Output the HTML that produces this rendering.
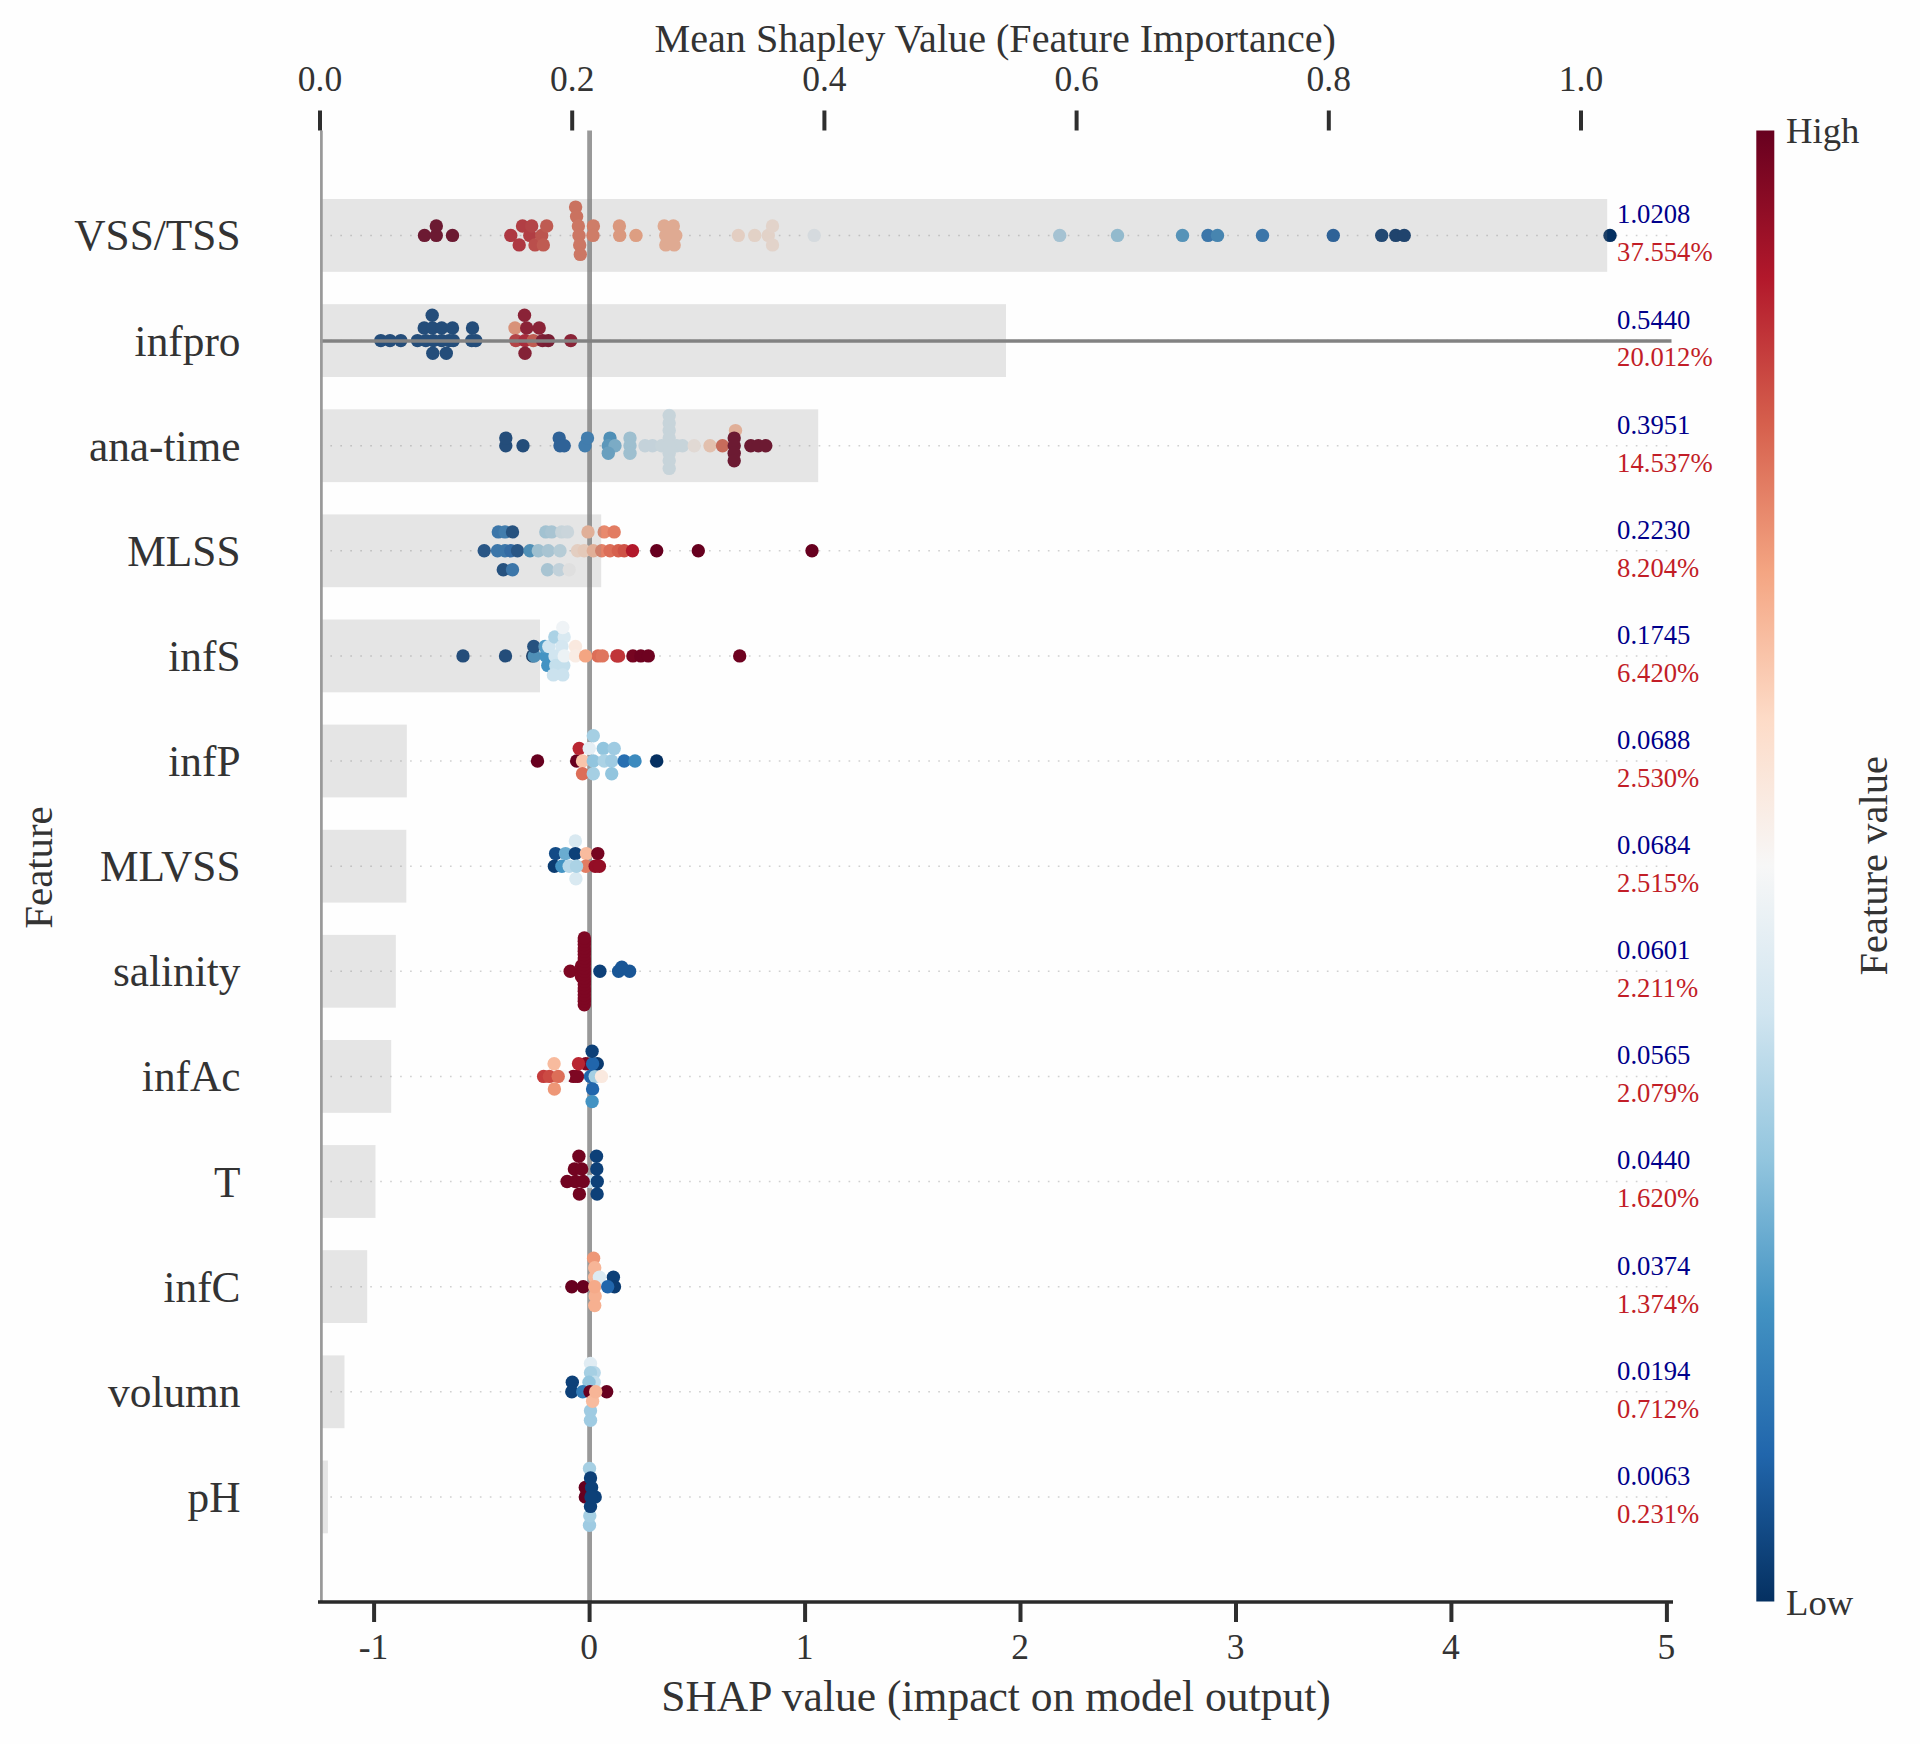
<!DOCTYPE html>
<html lang="en"><head><meta charset="utf-8"><title>SHAP summary plot</title>
<style>
html,body{margin:0;padding:0;background:#fefefe;}
body{width:1920px;height:1744px;overflow:hidden;font-family:'Liberation Serif','DejaVu Serif',serif;}
svg{display:block;}
</style></head><body>
<svg width="1920" height="1744" viewBox="0 0 1920 1744" font-family="'Liberation Serif','DejaVu Serif',serif" fill="#333333">
<rect width="1920" height="1744" fill="#fefefe"/>
<g stroke="#d0d0d0" stroke-width="1.5" stroke-dasharray="1.66 8.305" fill="none">
<line x1="320.4" x2="1670.5" y1="235.4" y2="235.4"/>
<line x1="320.4" x2="1670.5" y1="340.6" y2="340.6"/>
<line x1="320.4" x2="1670.5" y1="445.7" y2="445.7"/>
<line x1="320.4" x2="1670.5" y1="550.8" y2="550.8"/>
<line x1="320.4" x2="1670.5" y1="655.9" y2="655.9"/>
<line x1="320.4" x2="1670.5" y1="761.0" y2="761.0"/>
<line x1="320.4" x2="1670.5" y1="866.2" y2="866.2"/>
<line x1="320.4" x2="1670.5" y1="971.3" y2="971.3"/>
<line x1="320.4" x2="1670.5" y1="1076.4" y2="1076.4"/>
<line x1="320.4" x2="1670.5" y1="1181.5" y2="1181.5"/>
<line x1="320.4" x2="1670.5" y1="1286.7" y2="1286.7"/>
<line x1="320.4" x2="1670.5" y1="1391.8" y2="1391.8"/>
<line x1="320.4" x2="1670.5" y1="1496.9" y2="1496.9"/>
</g>
<line x1="589.6" x2="589.6" y1="130.5" y2="1602.0" stroke="#999999" stroke-width="4.8"/>
<g>
<circle cx="424.5" cy="235.4" r="6.7" fill="#67001f"/>
<circle cx="436.3" cy="235.4" r="6.7" fill="#67001f"/>
<circle cx="436.3" cy="226.0" r="6.7" fill="#67001f"/>
<circle cx="452.5" cy="235.4" r="6.7" fill="#67001f"/>
<circle cx="510.8" cy="235.4" r="6.7" fill="#b92632"/>
<circle cx="519.2" cy="244.9" r="6.7" fill="#b92632"/>
<circle cx="522.5" cy="226.0" r="6.7" fill="#bd2e35"/>
<circle cx="529.8" cy="235.4" r="6.7" fill="#bd2e35"/>
<circle cx="531.7" cy="226.0" r="6.7" fill="#c03539"/>
<circle cx="535.0" cy="244.9" r="6.7" fill="#c8433f"/>
<circle cx="541.7" cy="235.4" r="6.7" fill="#cb4a43"/>
<circle cx="543.3" cy="244.9" r="6.7" fill="#cf5246"/>
<circle cx="546.7" cy="226.0" r="6.7" fill="#cf5246"/>
<circle cx="575.6" cy="207.1" r="6.7" fill="#dc6e58"/>
<circle cx="576.6" cy="216.5" r="6.7" fill="#dc6e58"/>
<circle cx="578.4" cy="226.0" r="6.7" fill="#df755d"/>
<circle cx="579.0" cy="235.4" r="6.7" fill="#df755d"/>
<circle cx="579.7" cy="244.9" r="6.7" fill="#df755d"/>
<circle cx="580.3" cy="254.4" r="6.7" fill="#df755d"/>
<circle cx="593.4" cy="226.0" r="6.7" fill="#e27c62"/>
<circle cx="593.0" cy="235.4" r="6.7" fill="#e27c62"/>
<circle cx="619.4" cy="226.0" r="6.7" fill="#f19e7d"/>
<circle cx="619.7" cy="235.4" r="6.7" fill="#f19e7d"/>
<circle cx="636.0" cy="235.4" r="6.7" fill="#f4a582"/>
<circle cx="664.2" cy="226.0" r="6.7" fill="#f7b597"/>
<circle cx="673.3" cy="226.0" r="6.7" fill="#f7b597"/>
<circle cx="665.8" cy="235.4" r="6.7" fill="#f7b597"/>
<circle cx="675.8" cy="235.4" r="6.7" fill="#f7b597"/>
<circle cx="665.8" cy="244.9" r="6.7" fill="#f7b597"/>
<circle cx="674.2" cy="244.9" r="6.7" fill="#f7b597"/>
<circle cx="738.3" cy="235.4" r="6.7" fill="#fce2d3"/>
<circle cx="754.7" cy="235.4" r="6.7" fill="#fbe5d8"/>
<circle cx="768.3" cy="235.4" r="6.7" fill="#fbe6da"/>
<circle cx="772.5" cy="226.0" r="6.7" fill="#fae8dd"/>
<circle cx="772.5" cy="244.9" r="6.7" fill="#fae8dd"/>
<circle cx="814.2" cy="235.4" r="6.7" fill="#eaf1f5"/>
<circle cx="1059.7" cy="235.4" r="6.7" fill="#aed3e6"/>
<circle cx="1117.5" cy="235.4" r="6.7" fill="#98c8e0"/>
<circle cx="1182.5" cy="235.4" r="6.7" fill="#4b98c6"/>
<circle cx="1208.0" cy="235.4" r="6.7" fill="#2b74b3"/>
<circle cx="1217.5" cy="235.4" r="6.7" fill="#3986bc"/>
<circle cx="1262.5" cy="235.4" r="6.7" fill="#2b74b3"/>
<circle cx="1333.3" cy="235.4" r="6.7" fill="#1b5b9d"/>
<circle cx="1381.7" cy="235.4" r="6.7" fill="#0b3b70"/>
<circle cx="1395.8" cy="235.4" r="6.7" fill="#083568"/>
<circle cx="1404.2" cy="235.4" r="6.7" fill="#083568"/>
<circle cx="1610.0" cy="235.4" r="6.7" fill="#053061"/>
<circle cx="380.8" cy="340.6" r="6.7" fill="#0d4078"/>
<circle cx="390.0" cy="340.6" r="6.7" fill="#0d4078"/>
<circle cx="400.8" cy="340.6" r="6.7" fill="#0d4078"/>
<circle cx="417.5" cy="340.6" r="6.7" fill="#0d4078"/>
<circle cx="425.8" cy="340.6" r="6.7" fill="#0d4078"/>
<circle cx="433.3" cy="340.6" r="6.7" fill="#0d4078"/>
<circle cx="441.7" cy="340.6" r="6.7" fill="#0d4078"/>
<circle cx="449.2" cy="340.6" r="6.7" fill="#0d4078"/>
<circle cx="453.3" cy="340.6" r="6.7" fill="#0d4078"/>
<circle cx="471.7" cy="340.6" r="6.7" fill="#0d4078"/>
<circle cx="475.8" cy="340.6" r="6.7" fill="#0d4078"/>
<circle cx="424.2" cy="328.0" r="6.7" fill="#0d4078"/>
<circle cx="432.5" cy="328.0" r="6.7" fill="#0d4078"/>
<circle cx="441.7" cy="328.0" r="6.7" fill="#0d4078"/>
<circle cx="452.5" cy="328.0" r="6.7" fill="#0d4078"/>
<circle cx="472.5" cy="328.0" r="6.7" fill="#0d4078"/>
<circle cx="432.2" cy="315.3" r="6.7" fill="#0d4078"/>
<circle cx="432.8" cy="353.2" r="6.7" fill="#0d4078"/>
<circle cx="446.3" cy="353.2" r="6.7" fill="#0d4078"/>
<circle cx="515.0" cy="328.0" r="6.7" fill="#ee9777"/>
<circle cx="515.8" cy="340.6" r="6.7" fill="#c03539"/>
<circle cx="525.0" cy="340.6" r="6.7" fill="#b2182b"/>
<circle cx="533.3" cy="340.6" r="6.7" fill="#cf5246"/>
<circle cx="542.5" cy="340.6" r="6.7" fill="#7e0723"/>
<circle cx="548.3" cy="340.6" r="6.7" fill="#760521"/>
<circle cx="570.8" cy="340.6" r="6.7" fill="#8c0c25"/>
<circle cx="526.7" cy="328.0" r="6.7" fill="#8c0c25"/>
<circle cx="539.2" cy="328.0" r="6.7" fill="#8c0c25"/>
<circle cx="524.5" cy="315.3" r="6.7" fill="#8c0c25"/>
<circle cx="525.0" cy="353.2" r="6.7" fill="#850a24"/>
<circle cx="505.8" cy="445.7" r="6.7" fill="#0d4078"/>
<circle cx="505.8" cy="438.1" r="6.7" fill="#0d4078"/>
<circle cx="523.0" cy="445.7" r="6.7" fill="#0d4078"/>
<circle cx="559.2" cy="438.1" r="6.7" fill="#1b5b9d"/>
<circle cx="560.0" cy="445.7" r="6.7" fill="#1b5b9d"/>
<circle cx="564.2" cy="445.7" r="6.7" fill="#1b5b9d"/>
<circle cx="585.0" cy="445.7" r="6.7" fill="#327cb8"/>
<circle cx="587.5" cy="438.1" r="6.7" fill="#327cb8"/>
<circle cx="610.0" cy="438.1" r="6.7" fill="#4393c3"/>
<circle cx="608.3" cy="445.7" r="6.7" fill="#539dc8"/>
<circle cx="615.0" cy="445.7" r="6.7" fill="#7ab6d6"/>
<circle cx="608.3" cy="453.3" r="6.7" fill="#63a7ce"/>
<circle cx="630.0" cy="438.1" r="6.7" fill="#a5cfe3"/>
<circle cx="630.0" cy="445.7" r="6.7" fill="#a5cfe3"/>
<circle cx="630.0" cy="453.3" r="6.7" fill="#a5cfe3"/>
<circle cx="645.0" cy="445.7" r="6.7" fill="#d5e7f1"/>
<circle cx="652.5" cy="445.7" r="6.7" fill="#d5e7f1"/>
<circle cx="661.7" cy="445.7" r="6.7" fill="#d9e9f1"/>
<circle cx="676.7" cy="445.7" r="6.7" fill="#d9e9f1"/>
<circle cx="682.5" cy="445.7" r="6.7" fill="#d9e9f1"/>
<circle cx="669.2" cy="415.4" r="6.7" fill="#d9e9f1"/>
<circle cx="669.2" cy="423.0" r="6.7" fill="#d9e9f1"/>
<circle cx="669.2" cy="430.6" r="6.7" fill="#d9e9f1"/>
<circle cx="669.2" cy="438.1" r="6.7" fill="#d9e9f1"/>
<circle cx="669.2" cy="445.7" r="6.7" fill="#d9e9f1"/>
<circle cx="669.2" cy="453.3" r="6.7" fill="#d9e9f1"/>
<circle cx="669.2" cy="460.8" r="6.7" fill="#d9e9f1"/>
<circle cx="669.2" cy="468.4" r="6.7" fill="#d9e9f1"/>
<circle cx="694.2" cy="445.7" r="6.7" fill="#f9efe9"/>
<circle cx="710.0" cy="445.7" r="6.7" fill="#fbd0b9"/>
<circle cx="722.5" cy="445.7" r="6.7" fill="#d96752"/>
<circle cx="735.5" cy="430.6" r="6.7" fill="#f8bb9e"/>
<circle cx="734.2" cy="438.1" r="6.7" fill="#67001f"/>
<circle cx="734.2" cy="445.7" r="6.7" fill="#67001f"/>
<circle cx="734.2" cy="453.3" r="6.7" fill="#67001f"/>
<circle cx="734.2" cy="460.8" r="6.7" fill="#67001f"/>
<circle cx="750.8" cy="445.7" r="6.7" fill="#67001f"/>
<circle cx="758.3" cy="445.7" r="6.7" fill="#67001f"/>
<circle cx="765.8" cy="445.7" r="6.7" fill="#67001f"/>
<circle cx="484.2" cy="550.8" r="6.7" fill="#134b86"/>
<circle cx="497.5" cy="550.8" r="6.7" fill="#2b74b3"/>
<circle cx="505.0" cy="550.8" r="6.7" fill="#2b74b3"/>
<circle cx="510.8" cy="550.8" r="6.7" fill="#2166ac"/>
<circle cx="517.5" cy="550.8" r="6.7" fill="#134b86"/>
<circle cx="530.0" cy="550.8" r="6.7" fill="#4393c3"/>
<circle cx="538.3" cy="550.8" r="6.7" fill="#a5cfe3"/>
<circle cx="548.3" cy="550.8" r="6.7" fill="#b2d5e7"/>
<circle cx="560.0" cy="550.8" r="6.7" fill="#c4dfec"/>
<circle cx="577.5" cy="550.8" r="6.7" fill="#fce1d1"/>
<circle cx="584.2" cy="550.8" r="6.7" fill="#fddbc7"/>
<circle cx="593.3" cy="550.8" r="6.7" fill="#f8bb9e"/>
<circle cx="601.7" cy="550.8" r="6.7" fill="#e58268"/>
<circle cx="610.0" cy="550.8" r="6.7" fill="#dc6e58"/>
<circle cx="618.3" cy="550.8" r="6.7" fill="#d6604d"/>
<circle cx="624.2" cy="550.8" r="6.7" fill="#cf5246"/>
<circle cx="632.5" cy="550.8" r="6.7" fill="#b2182b"/>
<circle cx="656.7" cy="550.8" r="6.7" fill="#67001f"/>
<circle cx="698.3" cy="550.8" r="6.7" fill="#67001f"/>
<circle cx="812.0" cy="550.8" r="6.7" fill="#67001f"/>
<circle cx="498.3" cy="531.9" r="6.7" fill="#2b74b3"/>
<circle cx="505.0" cy="531.9" r="6.7" fill="#327cb8"/>
<circle cx="512.5" cy="531.9" r="6.7" fill="#10467f"/>
<circle cx="545.8" cy="531.9" r="6.7" fill="#abd2e5"/>
<circle cx="551.7" cy="531.9" r="6.7" fill="#b2d5e7"/>
<circle cx="561.7" cy="531.9" r="6.7" fill="#d9e9f1"/>
<circle cx="567.5" cy="531.9" r="6.7" fill="#dceaf2"/>
<circle cx="588.0" cy="531.9" r="6.7" fill="#f8bb9e"/>
<circle cx="604.2" cy="531.9" r="6.7" fill="#e8896d"/>
<circle cx="614.2" cy="531.9" r="6.7" fill="#e27c62"/>
<circle cx="503.3" cy="569.7" r="6.7" fill="#10467f"/>
<circle cx="512.5" cy="569.7" r="6.7" fill="#2b74b3"/>
<circle cx="547.5" cy="569.7" r="6.7" fill="#b2d5e7"/>
<circle cx="559.2" cy="569.7" r="6.7" fill="#d1e5f0"/>
<circle cx="569.2" cy="569.7" r="6.7" fill="#f7f7f7"/>
<circle cx="463.0" cy="655.9" r="6.7" fill="#0d4078"/>
<circle cx="505.5" cy="655.9" r="6.7" fill="#0d4078"/>
<circle cx="532.7" cy="655.9" r="6.7" fill="#053061"/>
<circle cx="534.2" cy="655.9" r="6.7" fill="#4393c3"/>
<circle cx="545.9" cy="655.9" r="6.7" fill="#4393c3"/>
<circle cx="533.8" cy="646.5" r="6.7" fill="#10467f"/>
<circle cx="545.0" cy="646.5" r="6.7" fill="#539dc8"/>
<circle cx="548.8" cy="646.5" r="6.7" fill="#d1e5f0"/>
<circle cx="547.8" cy="665.4" r="6.7" fill="#4393c3"/>
<circle cx="554.8" cy="637.0" r="6.7" fill="#abd2e5"/>
<circle cx="564.2" cy="637.0" r="6.7" fill="#d9e9f1"/>
<circle cx="562.8" cy="627.5" r="6.7" fill="#eff3f6"/>
<circle cx="561.9" cy="646.5" r="6.7" fill="#d5e7f1"/>
<circle cx="555.0" cy="655.9" r="6.7" fill="#d1e5f0"/>
<circle cx="555.8" cy="665.4" r="6.7" fill="#c4dfec"/>
<circle cx="563.8" cy="665.4" r="6.7" fill="#c4dfec"/>
<circle cx="553.4" cy="674.9" r="6.7" fill="#cbe2ee"/>
<circle cx="562.8" cy="674.9" r="6.7" fill="#cbe2ee"/>
<circle cx="564.2" cy="655.9" r="6.7" fill="#ecf2f5"/>
<circle cx="575.5" cy="646.5" r="6.7" fill="#fae9df"/>
<circle cx="575.5" cy="655.9" r="6.7" fill="#f9ece4"/>
<circle cx="598.0" cy="655.9" r="6.7" fill="#dc6e58"/>
<circle cx="602.4" cy="655.9" r="6.7" fill="#df755d"/>
<circle cx="585.5" cy="655.9" r="6.7" fill="#f4a582"/>
<circle cx="616.9" cy="655.9" r="6.7" fill="#c03539"/>
<circle cx="618.6" cy="655.9" r="6.7" fill="#c03539"/>
<circle cx="632.9" cy="655.9" r="6.7" fill="#760521"/>
<circle cx="640.8" cy="655.9" r="6.7" fill="#6e0220"/>
<circle cx="648.3" cy="655.9" r="6.7" fill="#6e0220"/>
<circle cx="739.7" cy="655.9" r="6.7" fill="#6e0220"/>
<circle cx="537.5" cy="761.0" r="6.7" fill="#67001f"/>
<circle cx="576.7" cy="761.0" r="6.7" fill="#67001f"/>
<circle cx="579.2" cy="748.4" r="6.7" fill="#b92632"/>
<circle cx="582.5" cy="761.0" r="6.7" fill="#f9c5ab"/>
<circle cx="582.5" cy="773.7" r="6.7" fill="#dc6e58"/>
<circle cx="593.3" cy="735.8" r="6.7" fill="#a5cfe3"/>
<circle cx="603.3" cy="748.4" r="6.7" fill="#92c5de"/>
<circle cx="614.2" cy="748.4" r="6.7" fill="#9fcbe2"/>
<circle cx="589.2" cy="748.4" r="6.7" fill="#e4eef4"/>
<circle cx="593.3" cy="761.0" r="6.7" fill="#92c5de"/>
<circle cx="604.2" cy="761.0" r="6.7" fill="#abd2e5"/>
<circle cx="611.7" cy="761.0" r="6.7" fill="#9fcbe2"/>
<circle cx="593.3" cy="773.7" r="6.7" fill="#a5cfe3"/>
<circle cx="611.7" cy="773.7" r="6.7" fill="#92c5de"/>
<circle cx="624.2" cy="761.0" r="6.7" fill="#286fb1"/>
<circle cx="635.0" cy="761.0" r="6.7" fill="#3c8abe"/>
<circle cx="656.7" cy="761.0" r="6.7" fill="#053061"/>
<circle cx="575.4" cy="840.9" r="6.7" fill="#d9e9f1"/>
<circle cx="575.9" cy="878.8" r="6.7" fill="#d9e9f1"/>
<circle cx="554.4" cy="866.2" r="6.7" fill="#0b3b70"/>
<circle cx="561.9" cy="866.2" r="6.7" fill="#4393c3"/>
<circle cx="555.6" cy="853.6" r="6.7" fill="#134b86"/>
<circle cx="565.5" cy="853.6" r="6.7" fill="#6aacd0"/>
<circle cx="575.4" cy="853.6" r="6.7" fill="#0d4078"/>
<circle cx="586.4" cy="853.6" r="6.7" fill="#f8bb9e"/>
<circle cx="585.8" cy="866.2" r="6.7" fill="#e27c62"/>
<circle cx="569.2" cy="866.2" r="6.7" fill="#b8d8e9"/>
<circle cx="576.5" cy="866.2" r="6.7" fill="#abd2e5"/>
<circle cx="597.8" cy="853.6" r="6.7" fill="#760521"/>
<circle cx="595.2" cy="866.2" r="6.7" fill="#940e26"/>
<circle cx="599.4" cy="866.2" r="6.7" fill="#940e26"/>
<circle cx="570.2" cy="971.3" r="6.7" fill="#7e0723"/>
<circle cx="581.5" cy="971.3" r="6.7" fill="#7e0723"/>
<circle cx="581.5" cy="966.1" r="6.7" fill="#7e0723"/>
<circle cx="581.5" cy="976.5" r="6.7" fill="#7e0723"/>
<circle cx="584.3" cy="1004.7" r="6.7" fill="#7e0723"/>
<circle cx="584.3" cy="1001.3" r="6.7" fill="#7e0723"/>
<circle cx="584.3" cy="998.0" r="6.7" fill="#7e0723"/>
<circle cx="584.3" cy="994.7" r="6.7" fill="#7e0723"/>
<circle cx="584.3" cy="991.3" r="6.7" fill="#7e0723"/>
<circle cx="584.3" cy="988.0" r="6.7" fill="#7e0723"/>
<circle cx="584.3" cy="984.6" r="6.7" fill="#7e0723"/>
<circle cx="584.3" cy="981.3" r="6.7" fill="#7e0723"/>
<circle cx="584.3" cy="978.0" r="6.7" fill="#7e0723"/>
<circle cx="584.3" cy="974.6" r="6.7" fill="#7e0723"/>
<circle cx="584.3" cy="971.3" r="6.7" fill="#7e0723"/>
<circle cx="584.3" cy="968.0" r="6.7" fill="#7e0723"/>
<circle cx="584.3" cy="964.6" r="6.7" fill="#7e0723"/>
<circle cx="584.3" cy="961.3" r="6.7" fill="#7e0723"/>
<circle cx="584.3" cy="957.9" r="6.7" fill="#7e0723"/>
<circle cx="584.3" cy="954.6" r="6.7" fill="#7e0723"/>
<circle cx="584.3" cy="951.3" r="6.7" fill="#7e0723"/>
<circle cx="584.3" cy="947.9" r="6.7" fill="#7e0723"/>
<circle cx="584.3" cy="944.6" r="6.7" fill="#7e0723"/>
<circle cx="584.3" cy="941.3" r="6.7" fill="#7e0723"/>
<circle cx="584.3" cy="937.9" r="6.7" fill="#7e0723"/>
<circle cx="599.9" cy="971.3" r="6.7" fill="#0d4078"/>
<circle cx="618.6" cy="971.3" r="6.7" fill="#195696"/>
<circle cx="629.6" cy="971.3" r="6.7" fill="#195696"/>
<circle cx="621.8" cy="967.3" r="6.7" fill="#195696"/>
<circle cx="543.6" cy="1076.4" r="6.7" fill="#c43c3c"/>
<circle cx="549.4" cy="1076.4" r="6.7" fill="#cb4a43"/>
<circle cx="573.3" cy="1076.4" r="6.7" fill="#7e0723"/>
<circle cx="577.5" cy="1076.4" r="6.7" fill="#7e0723"/>
<circle cx="563.6" cy="1076.4" r="6.7" fill="#f7f7f7"/>
<circle cx="558.2" cy="1076.4" r="6.7" fill="#dc6e58"/>
<circle cx="554.1" cy="1063.8" r="6.7" fill="#f8bb9e"/>
<circle cx="554.4" cy="1089.0" r="6.7" fill="#ee9777"/>
<circle cx="585.8" cy="1063.8" r="6.7" fill="#7e0723"/>
<circle cx="578.5" cy="1063.8" r="6.7" fill="#b92632"/>
<circle cx="590.5" cy="1076.4" r="6.7" fill="#2166ac"/>
<circle cx="595.2" cy="1076.4" r="6.7" fill="#a5cfe3"/>
<circle cx="601.5" cy="1076.4" r="6.7" fill="#fae9df"/>
<circle cx="597.3" cy="1063.8" r="6.7" fill="#0b3b70"/>
<circle cx="592.6" cy="1063.8" r="6.7" fill="#2166ac"/>
<circle cx="592.1" cy="1051.2" r="6.7" fill="#0d4078"/>
<circle cx="592.6" cy="1089.0" r="6.7" fill="#2166ac"/>
<circle cx="592.1" cy="1101.6" r="6.7" fill="#4393c3"/>
<circle cx="590.0" cy="1181.5" r="6.7" fill="#c4dfec"/>
<circle cx="567.1" cy="1181.5" r="6.7" fill="#720421"/>
<circle cx="575.4" cy="1181.5" r="6.7" fill="#720421"/>
<circle cx="583.2" cy="1181.5" r="6.7" fill="#720421"/>
<circle cx="574.4" cy="1168.9" r="6.7" fill="#720421"/>
<circle cx="581.7" cy="1168.9" r="6.7" fill="#720421"/>
<circle cx="578.9" cy="1156.3" r="6.7" fill="#720421"/>
<circle cx="579.4" cy="1194.1" r="6.7" fill="#720421"/>
<circle cx="596.5" cy="1156.3" r="6.7" fill="#0d4078"/>
<circle cx="596.8" cy="1168.9" r="6.7" fill="#0d4078"/>
<circle cx="597.3" cy="1181.5" r="6.7" fill="#0d4078"/>
<circle cx="597.1" cy="1194.1" r="6.7" fill="#0d4078"/>
<circle cx="571.8" cy="1286.7" r="6.7" fill="#67001f"/>
<circle cx="583.2" cy="1286.7" r="6.7" fill="#67001f"/>
<circle cx="593.6" cy="1258.3" r="6.7" fill="#ee9777"/>
<circle cx="594.7" cy="1267.7" r="6.7" fill="#f7b597"/>
<circle cx="594.7" cy="1277.2" r="6.7" fill="#f7b597"/>
<circle cx="599.4" cy="1277.2" r="6.7" fill="#dceaf2"/>
<circle cx="594.7" cy="1305.6" r="6.7" fill="#f6b090"/>
<circle cx="595.2" cy="1296.1" r="6.7" fill="#f6b090"/>
<circle cx="594.7" cy="1286.7" r="6.7" fill="#f5aa89"/>
<circle cx="613.4" cy="1277.2" r="6.7" fill="#0d4078"/>
<circle cx="614.5" cy="1286.7" r="6.7" fill="#0b3b70"/>
<circle cx="607.7" cy="1286.7" r="6.7" fill="#2166ac"/>
<circle cx="590.5" cy="1363.4" r="6.7" fill="#e0ecf3"/>
<circle cx="594.2" cy="1372.8" r="6.7" fill="#b8d8e9"/>
<circle cx="590.5" cy="1372.8" r="6.7" fill="#a5cfe3"/>
<circle cx="594.2" cy="1382.3" r="6.7" fill="#c4dfec"/>
<circle cx="589.0" cy="1382.3" r="6.7" fill="#92c5de"/>
<circle cx="572.3" cy="1382.3" r="6.7" fill="#0d4078"/>
<circle cx="571.8" cy="1391.8" r="6.7" fill="#0d4078"/>
<circle cx="582.7" cy="1391.8" r="6.7" fill="#327cb8"/>
<circle cx="590.5" cy="1420.2" r="6.7" fill="#9fcbe2"/>
<circle cx="590.5" cy="1410.7" r="6.7" fill="#9fcbe2"/>
<circle cx="590.0" cy="1391.8" r="6.7" fill="#67001f"/>
<circle cx="606.7" cy="1391.8" r="6.7" fill="#67001f"/>
<circle cx="592.6" cy="1401.2" r="6.7" fill="#f8bb9e"/>
<circle cx="595.7" cy="1391.8" r="6.7" fill="#f7b597"/>
<circle cx="589.5" cy="1468.5" r="6.7" fill="#a5cfe3"/>
<circle cx="589.5" cy="1525.3" r="6.7" fill="#9fcbe2"/>
<circle cx="589.8" cy="1515.8" r="6.7" fill="#a5cfe3"/>
<circle cx="585.3" cy="1487.4" r="6.7" fill="#67001f"/>
<circle cx="585.3" cy="1496.9" r="6.7" fill="#67001f"/>
<circle cx="590.5" cy="1478.0" r="6.7" fill="#0d4078"/>
<circle cx="591.6" cy="1487.4" r="6.7" fill="#0d4078"/>
<circle cx="590.5" cy="1506.4" r="6.7" fill="#0d4078"/>
<circle cx="595.2" cy="1496.9" r="6.7" fill="#0d4078"/>
<circle cx="591.0" cy="1496.9" r="6.7" fill="#0d4078"/>
</g>
<g fill="#808080" fill-opacity="0.2">
<rect x="320.0" y="199.0" width="1287.2" height="72.8"/>
<rect x="320.0" y="304.2" width="686.0" height="72.8"/>
<rect x="320.0" y="409.3" width="498.2" height="72.8"/>
<rect x="320.0" y="514.4" width="281.2" height="72.8"/>
<rect x="320.0" y="619.5" width="220.0" height="72.8"/>
<rect x="320.0" y="724.6" width="86.8" height="72.8"/>
<rect x="320.0" y="829.8" width="86.3" height="72.8"/>
<rect x="320.0" y="934.9" width="75.8" height="72.8"/>
<rect x="320.0" y="1040.0" width="71.2" height="72.8"/>
<rect x="320.0" y="1145.1" width="55.5" height="72.8"/>
<rect x="320.0" y="1250.2" width="47.2" height="72.8"/>
<rect x="320.0" y="1355.4" width="24.5" height="72.8"/>
<rect x="320.0" y="1460.5" width="7.9" height="72.8"/>
</g>
<line x1="320.0" x2="1671.5" y1="341" y2="341" stroke="#828282" stroke-width="3.5"/>
<line x1="321.4" x2="321.4" y1="130.5" y2="1602.0" stroke="#999999" stroke-width="2.7"/>
<line x1="318" x2="1673" y1="1602" y2="1602" stroke="#2a2a2a" stroke-width="3.7"/>
<g stroke="#2e2e2e" stroke-width="4">
<line x1="374.1" x2="374.1" y1="1602" y2="1622"/>
<line x1="589.6" x2="589.6" y1="1602" y2="1622"/>
<line x1="805.1" x2="805.1" y1="1602" y2="1622"/>
<line x1="1020.5" x2="1020.5" y1="1602" y2="1622"/>
<line x1="1236.0" x2="1236.0" y1="1602" y2="1622"/>
<line x1="1451.4" x2="1451.4" y1="1602" y2="1622"/>
<line x1="1666.9" x2="1666.9" y1="1602" y2="1622"/>
<line x1="320.0" x2="320.0" y1="110.5" y2="130.5"/>
<line x1="572.2" x2="572.2" y1="110.5" y2="130.5"/>
<line x1="824.4" x2="824.4" y1="110.5" y2="130.5"/>
<line x1="1076.6" x2="1076.6" y1="110.5" y2="130.5"/>
<line x1="1328.8" x2="1328.8" y1="110.5" y2="130.5"/>
<line x1="1581.0" x2="1581.0" y1="110.5" y2="130.5"/>
</g>
<g font-size="35.5" text-anchor="middle">
<text x="373.6" y="1659.1">-1</text>
<text x="589.1" y="1659.1">0</text>
<text x="804.6" y="1659.1">1</text>
<text x="1020.0" y="1659.1">2</text>
<text x="1235.5" y="1659.1">3</text>
<text x="1450.9" y="1659.1">4</text>
<text x="1666.4" y="1659.1">5</text>
<text x="320.0" y="90.5">0.0</text>
<text x="572.2" y="90.5">0.2</text>
<text x="824.4" y="90.5">0.4</text>
<text x="1076.6" y="90.5">0.6</text>
<text x="1328.8" y="90.5">0.8</text>
<text x="1581.0" y="90.5">1.0</text>
</g>
<text x="995.2" y="51.5" font-size="40.15" text-anchor="middle">Mean Shapley Value (Feature Importance)</text>
<text x="996" y="1711" font-size="43.55" text-anchor="middle">SHAP value (impact on model output)</text>
<text transform="translate(51.7 867.5) rotate(-90)" font-size="40.8" text-anchor="middle">Feature</text>
<text transform="translate(1887.2 865.8) rotate(-90)" font-size="40.55" text-anchor="middle">Feature value</text>
<g font-size="43.33" text-anchor="end">
<text x="240.5" y="250.4">VSS/TSS</text>
<text x="240.5" y="355.6">infpro</text>
<text x="240.5" y="460.7">ana-time</text>
<text x="240.5" y="565.8">MLSS</text>
<text x="240.5" y="670.9">infS</text>
<text x="240.5" y="776.0">infP</text>
<text x="240.5" y="881.2">MLVSS</text>
<text x="240.5" y="986.3">salinity</text>
<text x="240.5" y="1091.4">infAc</text>
<text x="240.5" y="1196.5">T</text>
<text x="240.5" y="1301.7">infC</text>
<text x="240.5" y="1406.8">volumn</text>
<text x="240.5" y="1511.9">pH</text>
</g>
<g font-size="26.67">
<text x="1617.1" y="223.3" fill="#00008b">1.0208</text>
<text x="1617.1" y="261.2" fill="#c21d27">37.554%</text>
<text x="1617.1" y="328.5" fill="#00008b">0.5440</text>
<text x="1617.1" y="366.4" fill="#c21d27">20.012%</text>
<text x="1617.1" y="433.6" fill="#00008b">0.3951</text>
<text x="1617.1" y="471.5" fill="#c21d27">14.537%</text>
<text x="1617.1" y="538.7" fill="#00008b">0.2230</text>
<text x="1617.1" y="576.6" fill="#c21d27">8.204%</text>
<text x="1617.1" y="643.8" fill="#00008b">0.1745</text>
<text x="1617.1" y="681.7" fill="#c21d27">6.420%</text>
<text x="1617.1" y="748.9" fill="#00008b">0.0688</text>
<text x="1617.1" y="786.8" fill="#c21d27">2.530%</text>
<text x="1617.1" y="854.1" fill="#00008b">0.0684</text>
<text x="1617.1" y="892.0" fill="#c21d27">2.515%</text>
<text x="1617.1" y="959.2" fill="#00008b">0.0601</text>
<text x="1617.1" y="997.1" fill="#c21d27">2.211%</text>
<text x="1617.1" y="1064.3" fill="#00008b">0.0565</text>
<text x="1617.1" y="1102.2" fill="#c21d27">2.079%</text>
<text x="1617.1" y="1169.4" fill="#00008b">0.0440</text>
<text x="1617.1" y="1207.3" fill="#c21d27">1.620%</text>
<text x="1617.1" y="1274.6" fill="#00008b">0.0374</text>
<text x="1617.1" y="1312.5" fill="#c21d27">1.374%</text>
<text x="1617.1" y="1379.7" fill="#00008b">0.0194</text>
<text x="1617.1" y="1417.6" fill="#c21d27">0.712%</text>
<text x="1617.1" y="1484.8" fill="#00008b">0.0063</text>
<text x="1617.1" y="1522.7" fill="#c21d27">0.231%</text>
</g>
<defs><linearGradient id="cb" x1="0" y1="0" x2="0" y2="1">
<stop offset="0%" stop-color="#67001f"/>
<stop offset="10%" stop-color="#b2182b"/>
<stop offset="20%" stop-color="#d6604d"/>
<stop offset="30%" stop-color="#f4a582"/>
<stop offset="40%" stop-color="#fddbc7"/>
<stop offset="50%" stop-color="#f7f7f7"/>
<stop offset="60%" stop-color="#d1e5f0"/>
<stop offset="70%" stop-color="#92c5de"/>
<stop offset="80%" stop-color="#4393c3"/>
<stop offset="90%" stop-color="#2166ac"/>
<stop offset="100%" stop-color="#053061"/>
</linearGradient></defs>
<rect x="1756.3" y="130.5" width="18" height="1471" fill="url(#cb)"/>
<text x="1786" y="143.1" font-size="36.67">High</text>
<text x="1786" y="1614.5" font-size="36.67">Low</text>
</svg>
</body></html>
